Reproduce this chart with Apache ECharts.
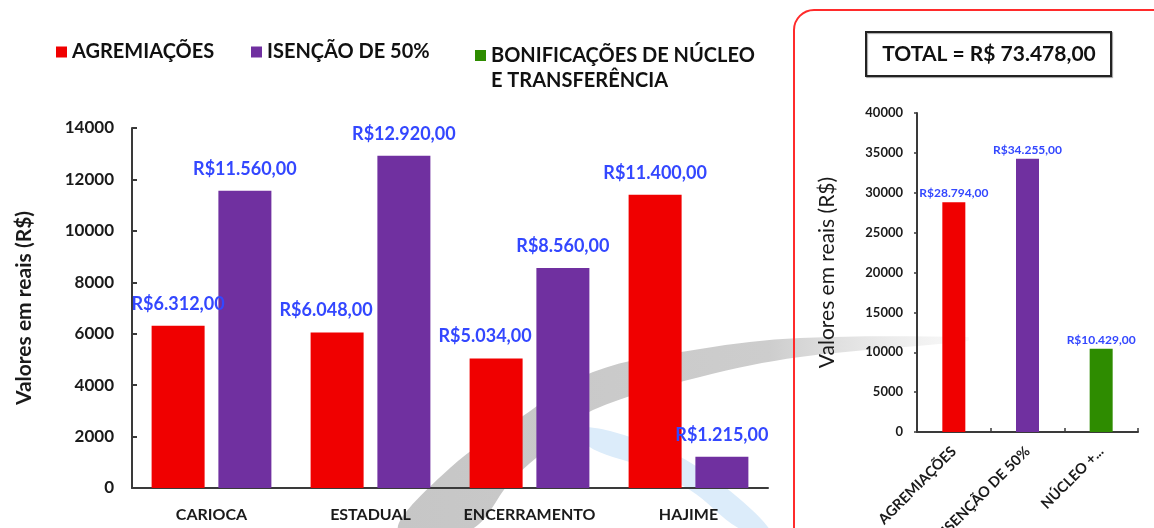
<!DOCTYPE html>
<html>
<head>
<meta charset="utf-8">
<script src="https://cdn.jsdelivr.net/npm/echarts@6/dist/echarts.min.js"></script>
<style>
  html, body { margin: 0; padding: 0; background: #ffffff; }
  #chart { width: 1154px; height: 528px; }
</style>
</head>
<body>
<div id="chart"></div>
<script>
// Event categories and amounts (R$)
const categories = ['CARIOCA', 'ESTADUAL', 'ENCERRAMENTO', 'HAJIME'];
const agremiacoes = [6312, 6048, 5034, 11400];
const isencao = [11560, 12920, 8560, 1215];

// Totals per benefit type
const summaryCategories = ['AGREMIAÇÕES', 'ISENÇÃO DE 50%', 'NÚCLEO +...'];
const summaryTotals = [28794, 34255, 10429];

const seriesNames = ['AGREMIAÇÕES', 'ISENÇÃO DE 50%', 'BONIFICAÇÕES DE NÚCLEO E TRANSFERÊNCIA'];

// Axis scales
const leftAxisMax = 14000, leftAxisStep = 2000;
const rightAxisMax = 40000, rightAxisStep = 5000;

const COLORS = ['#f00000', '#7030a0', '#2e8c00'];
const LABEL_BLUE = '#3347ff';
const FONT = 'Lato, "Open Sans", sans-serif';

// Brazilian currency text: R$12.345,00
function brl(v, sep) {
  const s = Math.round(v).toString().replace(/\B(?=(\d{3})+(?!\d))/g, '.');
  return 'R$' + (sep || '') + s + ',00';
}

// Horizontal nudges for labels that sit beside a taller neighbour
const labelShift = { ESTADUAL: -11, ENCERRAMENTO: -11 };

const grandTotal = summaryTotals.reduce((a, b) => a + b, 0);

const chart = echarts.init(document.getElementById('chart'), null, { renderer: 'canvas' });

const legendText = () => ({ fontFamily: FONT, fontWeight: 'bold', fontSize: 20, color: '#111' });

const option = {
  backgroundColor: '#ffffff',
  animation: false,
  textStyle: { fontFamily: FONT },
  legend: [
    {
      data: [seriesNames[0]], left: 51, top: 37, icon: 'rect',
      itemWidth: 11, itemHeight: 11, itemGap: 6, selectedMode: false,
      textStyle: legendText()
    },
    {
      data: [seriesNames[1]], left: 246, top: 37, icon: 'rect',
      itemWidth: 11, itemHeight: 11, itemGap: 6, selectedMode: false,
      textStyle: legendText()
    },
    {
      // tall icon box with the swatch at its top, so the swatch sits beside the first line
      data: [seriesNames[2]], left: 470, top: 38,
      icon: 'path://M0,0h11v11h-11zM0,35.99l0.01,0.01',
      itemWidth: 11, itemHeight: 36, itemGap: 6, selectedMode: false,
      formatter: () => 'BONIFICAÇÕES DE NÚCLEO\nE TRANSFERÊNCIA',
      textStyle: Object.assign(legendText(), { lineHeight: 25 })
    }
  ],
  grid: [
    { left: 132, top: 128, width: 636, height: 360, outerBoundsMode: 'none', containLabel: false },
    { left: 917, top: 113, width: 221, height: 319, outerBoundsMode: 'none', containLabel: false }
  ],
  xAxis: [
    {
      gridIndex: 0, type: 'category', data: categories,
      axisLine: { lineStyle: { color: '#3a3a3a', width: 2 } },
      axisTick: { show: false },
      axisLabel: { interval: 0, fontFamily: FONT, fontWeight: 'bold', fontSize: 16, color: '#1a1a1a', margin: 19 }
    },
    {
      gridIndex: 1, type: 'category', data: summaryCategories,
      axisLine: { lineStyle: { color: '#3a3a3a', width: 2 } },
      axisTick: { show: true, inside: true, length: 4, lineStyle: { color: '#3a3a3a', width: 1.5 } },
      axisLabel: {
        interval: 0, rotate: 45, fontFamily: FONT, fontWeight: 'bold', fontSize: 14.5,
        color: '#1a1a1a', margin: 17
      }
    }
  ],
  yAxis: [
    {
      gridIndex: 0, type: 'value', min: 0, max: leftAxisMax, interval: leftAxisStep,
      name: 'Valores em reais (R$)', nameLocation: 'middle', nameGap: 97,
      nameTextStyle: { fontFamily: FONT, fontWeight: 'bold', fontSize: 21, color: '#1a1a1a' },
      axisLine: { show: true, lineStyle: { color: '#3a3a3a', width: 2 } },
      axisTick: { show: true, inside: true, length: 5, lineStyle: { color: '#3a3a3a', width: 2 } },
      splitLine: { show: false },
      axisLabel: {
        formatter: v => String(v),
        fontFamily: FONT, fontWeight: 'bold', fontSize: 17, color: '#1a1a1a', margin: 18
      }
    },
    {
      gridIndex: 1, type: 'value', min: 0, max: rightAxisMax, interval: rightAxisStep,
      name: 'Valores em reais (R$)', nameLocation: 'middle', nameGap: 79,
      nameTextStyle: { fontFamily: FONT, fontSize: 21, color: '#1a1a1a' },
      axisLine: { show: true, lineStyle: { color: '#3a3a3a', width: 2 } },
      axisTick: { show: true, length: 3, lineStyle: { color: '#3a3a3a', width: 1.5 } },
      splitLine: { show: false },
      axisLabel: {
        formatter: v => String(v),
        fontFamily: FONT, fontWeight: 'bold', fontSize: 13, color: '#1a1a1a', margin: 14
      }
    }
  ],
  series: [
    {
      name: seriesNames[0], type: 'bar', xAxisIndex: 0, yAxisIndex: 0,
      barWidth: 53, barGap: '26%', z: 3,
      itemStyle: { color: COLORS[0] },
      data: agremiacoes.map((v, i) => ({
        value: v,
        label: { offset: [labelShift[categories[i]] || 0, 0] }
      })),
      label: {
        show: true, position: 'top', distance: 13, formatter: p => brl(p.value),
        fontFamily: FONT, fontWeight: 'bold', fontSize: 18, color: LABEL_BLUE
      }
    },
    {
      name: seriesNames[1], type: 'bar', xAxisIndex: 0, yAxisIndex: 0,
      barWidth: 53, barGap: '26%', z: 3,
      itemStyle: { color: COLORS[1] },
      data: isencao,
      label: {
        show: true, position: 'top', distance: 13, formatter: p => brl(p.value),
        fontFamily: FONT, fontWeight: 'bold', fontSize: 18, color: LABEL_BLUE
      }
    }
  ].concat(seriesNames.map((name, k) => ({
    // one bar per benefit type, each in its own colour on the totals chart
    name: name, type: 'bar', xAxisIndex: 1, yAxisIndex: 1,
    stack: 'totals', barWidth: 23, z: 3,
    itemStyle: { color: COLORS[k] },
    data: summaryTotals.map((v, i) => (i === k ? v : '-')),
    label: {
      show: true, position: 'top', distance: 3, formatter: p => brl(p.value),
      fontFamily: FONT, fontWeight: 'bold', fontSize: 12, color: LABEL_BLUE
    }
  }))),
  graphic: [
    // faint swoosh of the background emblem
    {
      type: 'polygon', z: 0, silent: true,
      shape: {
        smooth: 0.35,
        points: [
          [398, 530], [450, 468], [520, 418], [593, 372], [700, 349], [800, 338], [968, 337],
          [968, 341], [800, 357], [700, 377], [593, 410], [560, 438], [512, 480], [470, 530]
        ]
      },
      style: {
        fill: new echarts.graphic.LinearGradient(0, 0, 1, 0, [
          { offset: 0, color: '#c6c6c6' },
          { offset: 0.65, color: '#cdcdcd' },
          { offset: 1, color: 'rgba(225,225,225,0.2)' }
        ])
      }
    },
    {
      type: 'polygon', z: 0, silent: true,
      shape: {
        smooth: 0.35,
        points: [
          [583, 427], [650, 444], [705, 472], [770, 530],
          [742, 530], [690, 490], [640, 466], [588, 446]
        ]
      },
      style: { fill: '#dcecfa' }
    },
    // panel holding the totals chart
    {
      type: 'rect', z: 1, silent: true,
      shape: { x: 794, y: 10, width: 380, height: 545, r: 20 },
      style: { fill: 'none', stroke: '#ff2b2b', lineWidth: 2 }
    },
    {
      type: 'rect', z: 1, silent: true,
      shape: { x: 866, y: 32, width: 245, height: 44 },
      style: { fill: '#ffffff', stroke: '#222222', lineWidth: 2, shadowColor: 'rgba(0,0,0,0.35)', shadowOffsetX: 1, shadowOffsetY: 1, shadowBlur: 1 }
    },
    {
      type: 'text', z: 2, silent: true,
      x: 989, y: 54,
      style: {
        text: 'TOTAL = ' + brl(grandTotal, ' '),
        fontFamily: FONT, fontWeight: 'bold', fontSize: 21, fill: '#111',
        align: 'center', verticalAlign: 'middle'
      }
    }
  ]
};

chart.setOption(option);
</script>
</body>
</html>
